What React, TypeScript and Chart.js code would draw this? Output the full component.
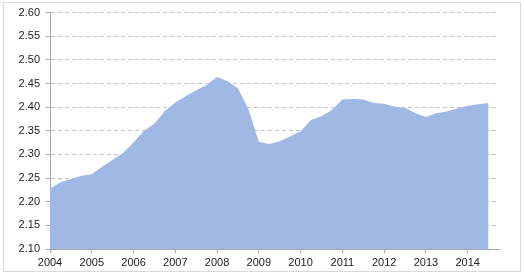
import React, { useEffect, useRef } from "react";
import { Chart, registerables } from "chart.js";

Chart.register(...registerables);

// Quarterly observations, 2004 Q1 .. 2014 Q3
const startYear = 2004;
const values = [
  2.228, 2.241, 2.248, 2.255,
  2.258, 2.274, 2.289, 2.303,
  2.325, 2.350, 2.365, 2.392,
  2.410, 2.423, 2.436, 2.447,
  2.464, 2.455, 2.440, 2.396,
  2.327, 2.322, 2.328, 2.338,
  2.349, 2.373, 2.381, 2.394,
  2.416, 2.417, 2.416, 2.409,
  2.407, 2.401, 2.399, 2.387,
  2.379, 2.387, 2.391, 2.397,
  2.403, 2.406, 2.409,
];
const yearTicks = [2004, 2005, 2006, 2007, 2008, 2009, 2010, 2011, 2012, 2013, 2014];
const yTicks = [2.1, 2.15, 2.2, 2.25, 2.3, 2.35, 2.4, 2.45, 2.5, 2.55, 2.6];

export default function App() {
  const ref = useRef<HTMLCanvasElement | null>(null);

  useEffect(() => {
    if (!ref.current) return;
    const points = values.map((v, i) => ({ x: startYear + i * 0.25, y: v }));
    const font = { family: "'Liberation Sans', Arial, sans-serif", size: 11 };
    const chart = new Chart(ref.current, {
      type: "line",
      data: {
        datasets: [
          {
            data: points,
            fill: "start",
            backgroundColor: "#A0B8E4",
            borderWidth: 0,
            pointRadius: 0,
            tension: 0,
          },
        ],
      },
      options: {
        animation: false,
        responsive: false,
        maintainAspectRatio: false,
        layout: { padding: { top: 11, right: 25, left: 0, bottom: 0 } },
        plugins: { legend: { display: false }, tooltip: { enabled: false } },
        scales: {
          x: {
            type: "linear",
            min: 2004,
            max: 2014.75,
            afterBuildTicks: (axis: any) => {
              axis.ticks = yearTicks.map((v) => ({ value: v }));
            },
            afterFit: (axis: any) => {
              axis.height = 29;
            },
            ticks: {
              color: "#222",
              font,
              padding: 3,
              maxRotation: 0,
              autoSkip: false,
              callback: (v: any) => String(v),
            },
            grid: {
              drawOnChartArea: false,
              drawTicks: true,
              tickLength: 4,
              tickColor: "#A6A6A6",
              color: "#A6A6A6",
            },
            border: { display: true, color: "#A6A6A6", width: 1 },
          },
          y: {
            min: 2.1,
            max: 2.6,
            afterBuildTicks: (axis: any) => {
              axis.ticks = yTicks.map((v) => ({ value: v }));
            },
            afterFit: (axis: any) => {
              axis.width = 50;
            },
            ticks: {
              color: "#222",
              font,
              padding: 6,
              autoSkip: false,
              callback: (v: any) => Number(v).toFixed(2),
            },
            grid: {
              color: "#C4C4C4",
              lineWidth: 1,
              drawTicks: true,
              tickLength: 4,
              tickColor: "#A6A6A6",
              tickBorderDash: [],
            },
            border: { display: true, color: "#A6A6A6", width: 1, dash: [4, 3] },
          },
        },
      },
    });
    return () => chart.destroy();
  }, []);

  return (
    <div style={{ position: "absolute", left: 0, top: 0, width: 524, height: 278, background: "#fff" }}>
      <div
        style={{
          position: "absolute",
          left: 3,
          top: 2,
          width: 516,
          height: 268,
          border: "1px solid #D9D9D9",
        }}
      />
      <canvas ref={ref} width={524} height={278} style={{ position: "absolute", left: 0, top: 0 }} />
    </div>
  );
}
